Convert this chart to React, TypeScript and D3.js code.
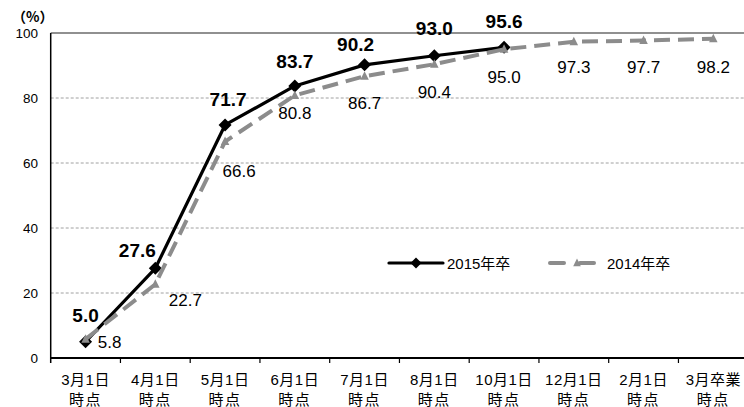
import React from "react";
import * as d3 from "d3";

const categories = [
  "3月1日|時点",
  "4月1日|時点",
  "5月1日|時点",
  "6月1日|時点",
  "7月1日|時点",
  "8月1日|時点",
  "10月1日|時点",
  "12月1日|時点",
  "2月1日|時点",
  "3月卒業|時点",
];
const series2015 = [5.0, 27.6, 71.7, 83.7, 90.2, 93.0, 95.6];
const series2014 = [5.8, 22.7, 66.6, 80.8, 86.7, 90.4, 95.0, 97.3, 97.7, 98.2];
const yTicks = [0, 20, 40, 60, 80, 100];
const legendLabels = ["2015年卒", "2014年卒"];

const W = 744;
const H = 407;
const FONT = "'Liberation Sans', Arial, 'Noto Sans CJK JP', sans-serif";

// label placement (rendering only)
const off2015: [number, number][] = [
  [0, -26], [-18, -18], [3, -25], [0, -24], [-9, -20], [0, -27], [0, -26],
];
const off2014: [number, number][] = [
  [24, 3], [30, 16], [14, 30], [0, 18], [0, 27], [0, 28], [0, 28], [0, 26], [0, 27], [0, 29],
];

export default function App() {
  const x = d3.scaleBand<string>().domain(categories).range([50.7, 748.2]).paddingInner(0).paddingOuter(0);
  const bw = x.bandwidth();
  const cx = (i: number) => (x(categories[i]) as number) + bw / 2;
  const y = d3.scaleLinear().domain([0, 100]).range([358, 33]);

  const line = d3
    .line<number>()
    .x((_, i) => cx(i))
    .y((d) => y(d));

  const diamond = (px: number, py: number, r: number) =>
    `M${px},${py - r}L${px + r},${py}L${px},${py + r}L${px - r},${py}Z`;
  const tri = (px: number, py: number, r: number) =>
    `M${px},${py - r}L${px + r * 0.85},${py + r * 0.7}L${px - r * 0.85},${py + r * 0.7}Z`;

  return (
    <svg
      width={W}
      height={H}
      style={{ position: "absolute", left: 0, top: 0, background: "#fff" }}
      fontFamily={FONT}
    >
      <rect x={0} y={0} width={W} height={H} fill="#fff" />
      {/* gridlines */}
      {yTicks
        .filter((t) => t > 0 && t < 100)
        .map((t) => (
          <line
            key={t}
            x1={50.7}
            x2={W}
            y1={y(t)}
            y2={y(t)}
            stroke="#a0a0a0"
            strokeWidth={1}
            strokeDasharray="3,2"
          />
        ))}
      <line x1={50.7} x2={W} y1={y(100)} y2={y(100)} stroke="#222" strokeWidth={1.2} />
      {/* axes */}
      <line x1={50.7} x2={50.7} y1={y(100)} y2={y(0) + 5} stroke="#000" strokeWidth={1.5} />
      <line x1={50.7} x2={W} y1={y(0)} y2={y(0)} stroke="#000" strokeWidth={2} />
      {categories.map((c, i) => (
        <line
          key={"t" + i}
          x1={(x(c) as number) + bw}
          x2={(x(c) as number) + bw}
          y1={y(0)}
          y2={y(0) + 5}
          stroke="#000"
          strokeWidth={1.2}
        />
      ))}
      {/* y tick labels */}
      {yTicks.map((t) => (
        <text
          key={"y" + t}
          x={38}
          y={y(t)}
          textAnchor="end"
          dominantBaseline="central"
          fontSize={13.5}
          fill="#000"
        >
          {t}
        </text>
      ))}
      <text x={12} y={16} fontSize={14} fontWeight="bold" dominantBaseline="central" fontFamily="'Noto Sans CJK JP', sans-serif">
        （%）
      </text>
      {/* category labels */}
      {categories.map((c, i) => {
        const [a, b] = c.split("|");
        return (
          <g key={"c" + i}>
            <text x={cx(i)} y={379} textAnchor="middle" dominantBaseline="central" fontSize={15} letterSpacing={0.5}>
              {a}
            </text>
            <text x={cx(i)} y={399} textAnchor="middle" dominantBaseline="central" fontSize={15} letterSpacing={1.5}>
              {b}
            </text>
          </g>
        );
      })}
      {/* 2015 series */}
      <path d={line(series2015) || ""} fill="none" stroke="#000" strokeWidth={3.2} strokeLinejoin="round" />
      {series2015.map((v, i) => (
        <path key={"d" + i} d={diamond(cx(i), y(v), 6.5)} fill="#000" />
      ))}
      {/* 2014 series */}
      <path
        d={line(series2014) || ""}
        fill="none"
        stroke="#8c8c8c"
        strokeWidth={4}
        strokeDasharray="16,8"
      />
      {series2014.map((v, i) => (
        <path key={"tr" + i} d={tri(cx(i), y(v), 5)} fill="#8c8c8c" />
      ))}
      {/* labels */}
      {series2015.map((v, i) => (
        <text
          key={"l5" + i}
          x={cx(i) + off2015[i][0]}
          y={y(v) + off2015[i][1]}
          textAnchor="middle"
          dominantBaseline="central"
          fontSize={19}
          fontWeight="bold"
          fill="#000"
        >
          {v.toFixed(1)}
        </text>
      ))}
      {series2014.map((v, i) => (
        <text
          key={"l4" + i}
          x={cx(i) + off2014[i][0]}
          y={y(v) + off2014[i][1]}
          textAnchor="middle"
          dominantBaseline="central"
          fontSize={17}
          fill="#000"
        >
          {v.toFixed(1)}
        </text>
      ))}
      {/* legend */}
      <line x1={389} x2={443} y1={263} y2={263} stroke="#000" strokeWidth={3.2} strokeLinecap="round" />
      <path d={diamond(416, 263, 5.5)} fill="#000" />
      <text x={447} y={263} fontSize={15} dominantBaseline="central">
        {legendLabels[0]}
      </text>
      <line x1={550} x2={564} y1={263} y2={263} stroke="#8c8c8c" strokeWidth={4} strokeLinecap="round" />
      <line x1={580} x2={594} y1={263} y2={263} stroke="#8c8c8c" strokeWidth={4} strokeLinecap="round" />
      <path d={tri(577, 263, 4.5)} fill="#8c8c8c" />
      <text x={607} y={263} fontSize={15} dominantBaseline="central">
        {legendLabels[1]}
      </text>
    </svg>
  );
}
